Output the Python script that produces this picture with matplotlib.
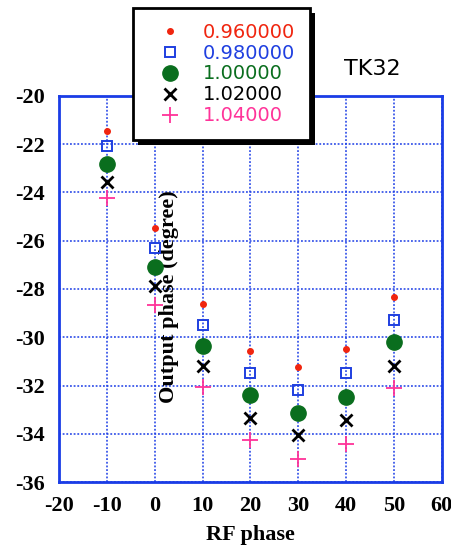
import numpy as np
import matplotlib
matplotlib.use('Agg')
import matplotlib.pyplot as plt
from matplotlib.patches import Rectangle

plt.rcParams['axes.unicode_minus'] = False

# data
rf_phase = [-10, 0, 10, 20, 30, 40, 50]
labels = ['0.960000', '0.980000', '1.00000', '1.02000', '1.04000']
out_096 = [-21.44, -25.49, -28.63, -30.55, -31.22, -30.48, -28.35]
out_098 = [-22.07, -26.28, -29.50, -31.48, -32.20, -31.48, -29.29]
out_100 = [-22.83, -27.08, -30.37, -32.41, -33.14, -32.48, -30.19]
out_102 = [-23.58, -27.88, -31.20, -33.33, -34.07, -33.42, -31.20]
out_104 = [-24.22, -28.67, -32.06, -34.27, -35.06, -34.41, -32.12]

series = [out_096, out_098, out_100, out_102, out_104]
colors = ['#f0250f', '#1f3fe0', '#0a6e1e', 'black', '#ff3399']
styles = [
    dict(marker='o', ms=4, mfc=colors[0], mec=colors[0]),
    dict(marker='s', ms=7, mfc='none', mec=colors[1], mew=1.4),
    dict(marker='o', ms=11, mfc=colors[2], mec=colors[2]),
    dict(marker='x', ms=9, mec=colors[3], mew=2),
    dict(marker='+', ms=12, mec=colors[4], mew=1.3),
]

blue = '#1a3ce6'
serif = ['Liberation Serif', 'DejaVu Serif']

fig = plt.figure(figsize=(4.52, 5.51), dpi=100)
ax = fig.add_axes([0.1305, 0.1252, 0.847, 0.7006])

handles = []
for ys, st in zip(series, styles):
    h, = ax.plot(rf_phase, ys, ls='none', **st)
    handles.append(h)

ax.set_xlim(-20, 60)
ax.set_ylim(-36, -20)
ax.set_xticks(np.arange(-20, 61, 10))
ax.set_yticks(np.arange(-36, -19, 2))
ax.grid(True, color=blue, ls=(0, (1.2, 1.2)), lw=1.1)
ax.set_axisbelow(True)
for sp in ax.spines.values():
    sp.set_color(blue)
    sp.set_linewidth(2)
ax.tick_params(direction='in', length=0, color=blue,
               top=True, right=True, pad=10)
for lab in ax.get_xticklabels() + ax.get_yticklabels():
    lab.set_family(serif)
    lab.set_fontweight('bold')
    lab.set_fontsize(16)

ax.set_xlabel('RF phase', family=serif, fontweight='bold', fontsize=16, va='center')
ax.xaxis.set_label_coords(0.5, -0.138)
ax.set_ylabel('Output phase (degree)', family=serif, fontweight='bold', fontsize=16)
ax.yaxis.set_label_coords(0.313, 0.48)

fig.text(372 / 452, 1 - 69 / 551, 'TK32', fontsize=16, ha='center', va='center',
         family='DejaVu Sans')

leg = fig.legend(handles, labels, loc='upper left',
                 bbox_to_anchor=(133 / 452, 1 - 8 / 551),
                 borderaxespad=0, fontsize=14, frameon=True, fancybox=False,
                 framealpha=1, facecolor='white',
                 handlelength=2.3, handletextpad=0.55, labelspacing=0.1,
                 borderpad=0.75)
leg.get_frame().set_edgecolor('black')
leg.get_frame().set_linewidth(2)
leg.set_zorder(10)
for t, c in zip(leg.get_texts(), colors):
    t.set_color(c)

fig.canvas.draw()
bb = leg.get_window_extent().transformed(fig.transFigure.inverted())
shadow = Rectangle((bb.x0 + 5 / 452, bb.y0 - 5 / 551), bb.width, bb.height,
                   transform=fig.transFigure, facecolor='black', zorder=9)
fig.add_artist(shadow)

fig.savefig('out.png', dpi=100)
